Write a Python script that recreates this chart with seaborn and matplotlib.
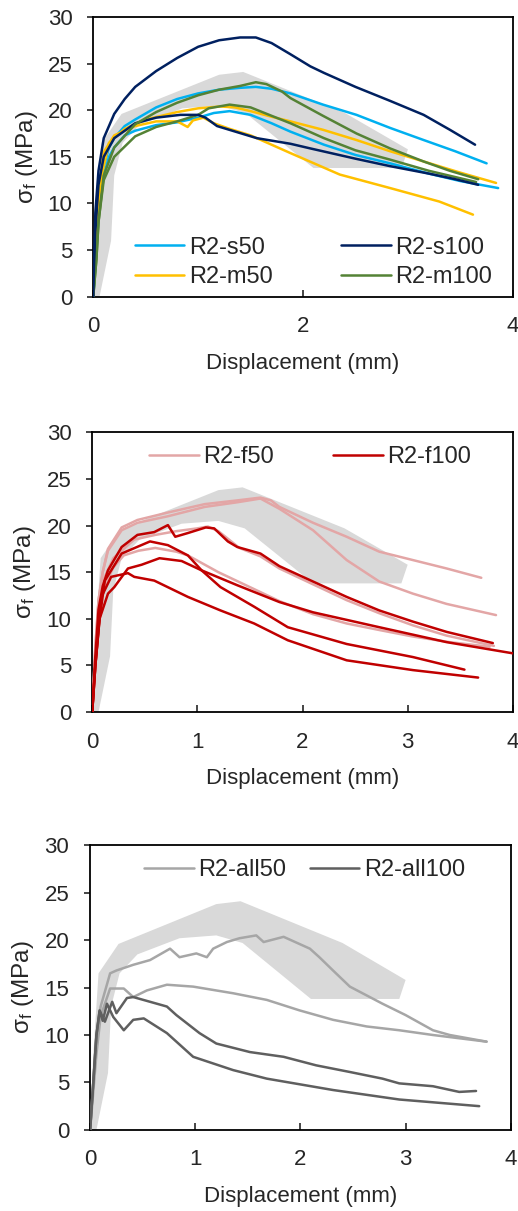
import numpy as np
import pandas as pd
import seaborn as sns
import matplotlib.pyplot as plt
from matplotlib.lines import Line2D

# grey scatter band (same in every panel)
band_x = [0.0, 0.03, 0.08, 0.27, 1.2, 1.43, 2.4, 3.0, 2.94, 2.1, 1.45, 1.2, 0.85, 0.45, 0.28, 0.2, 0.17, 0.06]
band_y = [0.0, 8.0, 16.5, 19.6, 23.8, 24.1, 19.7, 15.8, 13.8, 13.8, 19.7, 20.5, 20.2, 18.5, 16.5, 13.0, 6.0, 0.0]

# panel 1 : R2-s / R2-m
s50_a_x = [0, 0.03, 0.06, 0.1, 0.15, 0.2, 0.3, 0.4, 0.6, 0.8, 1.0, 1.2, 1.4, 1.55, 1.7, 1.88, 2.19, 2.51, 2.83, 3.15, 3.45, 3.75]
s50_a_y = [0, 6, 11, 14, 16, 17, 18.3, 19.0, 20.3, 21.2, 21.8, 22.2, 22.4, 22.5, 22.3, 21.8, 20.6, 19.5, 18.1, 16.8, 15.6, 14.3]
s50_b_x = [0, 0.03, 0.06, 0.1, 0.15, 0.2, 0.3, 0.4, 0.6, 0.8, 1.0, 1.15, 1.3, 1.5, 1.7, 1.88, 2.2, 2.5, 2.83, 3.2, 3.5, 3.86]
s50_b_y = [0, 5, 10, 13, 15, 16, 17.3, 17.8, 18.4, 18.7, 19.2, 19.7, 19.9, 19.5, 18.6, 17.7, 16.3, 15.2, 14.3, 13.2, 12.4, 11.65]
s100_a_x = [0, 0.02, 0.05, 0.1, 0.2, 0.3, 0.4, 0.6, 0.8, 1.0, 1.2, 1.4, 1.55, 1.7, 1.88, 2.07, 2.2, 2.5, 2.83, 3.15, 3.4, 3.64]
s100_a_y = [0, 9, 13.5, 17, 19.6, 21.2, 22.5, 24.2, 25.6, 26.8, 27.5, 27.8, 27.8, 27.2, 26.0, 24.7, 24.0, 22.5, 21.0, 19.5, 17.9, 16.3]
s100_b_x = [0, 0.02, 0.05, 0.1, 0.2, 0.4, 0.6, 0.83, 1.0, 1.07, 1.18, 1.56, 1.88, 2.07, 2.5, 2.83, 3.2, 3.45, 3.67]
s100_b_y = [0, 7, 12, 15, 17.0, 18.6, 19.2, 19.5, 19.5, 19.2, 18.3, 17.0, 16.4, 15.9, 14.8, 14.0, 13.2, 12.6, 12.0]
m50_a_x = [0, 0.02, 0.05, 0.08, 0.15, 0.3, 0.5, 0.8, 1.0, 1.21, 1.35, 1.5, 1.7, 1.88, 2.19, 2.51, 2.83, 3.15, 3.5, 3.84]
m50_a_y = [0, 5, 10, 13, 16.5, 18, 19, 19.8, 20.2, 20.4, 20.3, 19.9, 19.3, 18.8, 17.9, 16.8, 15.6, 14.5, 13.3, 12.2]
m50_b_x = [0, 0.02, 0.05, 0.1, 0.2, 0.4, 0.6, 0.8, 0.9, 0.95, 1.05, 1.15, 1.3, 1.5, 1.88, 2.35, 2.83, 3.3, 3.62]
m50_b_y = [0, 5, 11, 15.5, 17.3, 18.3, 18.8, 18.8, 18.2, 18.9, 19.2, 18.6, 18.0, 17.3, 15.4, 13.1, 11.65, 10.2, 8.8]
m100_a_x = [0, 0.03, 0.05, 0.1, 0.2, 0.4, 0.6, 0.8, 1.0, 1.2, 1.4, 1.55, 1.65, 1.8, 1.88, 2.19, 2.51, 2.83, 3.15, 3.4, 3.67]
m100_a_y = [0, 4, 8, 13, 16, 18.5, 19.8, 20.8, 21.6, 22.2, 22.6, 23.0, 22.8, 22.0, 21.3, 19.4, 17.5, 15.9, 14.5, 13.5, 12.6]
m100_b_x = [0, 0.03, 0.05, 0.1, 0.2, 0.4, 0.6, 0.8, 1.0, 1.1, 1.3, 1.5, 1.7, 1.88, 2.2, 2.5, 2.83, 3.2, 3.65]
m100_b_y = [0, 4, 8, 12.5, 15, 17.2, 18.2, 18.8, 19.5, 20.2, 20.6, 20.3, 19.4, 18.6, 17.0, 15.7, 14.7, 13.5, 12.3]

# panel 2 : R2-f
f50_a_x = [0, 0.03, 0.06, 0.1, 0.15, 0.28, 0.43, 0.72, 1.07, 1.38, 1.6, 1.7, 1.78, 2.1, 2.42, 2.73, 3.05, 3.37, 3.7]
f50_a_y = [0, 7, 12, 15, 17.5, 19.8, 20.6, 21.4, 22.3, 22.7, 23.0, 22.7, 22.0, 20.3, 18.8, 17.2, 16.3, 15.4, 14.4]
f50_b_x = [0, 0.03, 0.06, 0.1, 0.15, 0.28, 0.43, 0.72, 1.07, 1.38, 1.6, 1.78, 2.1, 2.42, 2.73, 3.05, 3.37, 3.84]
f50_b_y = [0, 7, 12, 15, 17.3, 19.5, 20.3, 21.0, 22.0, 22.5, 22.9, 21.8, 19.5, 16.3, 14.0, 12.7, 11.6, 10.4]
f50_c_x = [0, 0.03, 0.06, 0.1, 0.2, 0.4, 0.6, 0.8, 1.0, 1.1, 1.2, 1.4, 1.6, 1.78, 2.1, 2.42, 2.73, 3.05, 3.37, 3.82]
f50_c_y = [0, 6, 11, 14, 16.5, 18.5, 19.0, 19.4, 19.7, 19.9, 19.4, 17.6, 16.7, 15.4, 13.7, 12.0, 10.6, 9.3, 8.2, 7.1]
f50_d_x = [0, 0.03, 0.06, 0.1, 0.2, 0.3, 0.44, 0.6, 0.8, 0.91, 1.2, 1.5, 1.78, 2.1, 2.42, 2.73, 3.05, 3.4, 3.78]
f50_d_y = [0, 6, 10, 13, 15.5, 16.8, 17.3, 17.6, 17.2, 16.8, 15.0, 13.4, 11.9, 10.5, 9.5, 8.8, 8.1, 7.5, 7.0]
f100_a_x = [0, 0.03, 0.06, 0.1, 0.15, 0.28, 0.43, 0.59, 0.72, 0.79, 0.91, 1.08, 1.16, 1.29, 1.38, 1.6, 1.78, 2.1, 2.42, 2.73, 3.05, 3.37, 3.81]
f100_a_y = [0, 6, 11, 13.5, 15.2, 17.7, 19.0, 19.3, 20.05, 18.8, 19.2, 19.8, 19.7, 18.3, 17.7, 17.0, 15.65, 14.0, 12.35, 10.9, 9.7, 8.6, 7.4]
f100_b_x = [0, 0.03, 0.07, 0.12, 0.28, 0.55, 0.72, 0.91, 1.04, 1.22, 1.54, 1.86, 2.42, 3.05, 3.54]
f100_b_y = [0, 5, 10, 14.1, 17.0, 18.3, 17.9, 16.8, 15.2, 13.4, 11.3, 9.1, 7.3, 5.9, 4.55]
f100_c_x = [0, 0.03, 0.07, 0.15, 0.21, 0.34, 0.47, 0.64, 0.85, 1.04, 1.38, 1.78, 2.1, 2.73, 3.37, 4.0]
f100_c_y = [0, 5, 10, 12.7, 13.4, 15.4, 15.8, 16.5, 16.2, 15.2, 13.6, 11.8, 10.7, 9.1, 7.5, 6.3]
f100_d_x = [0, 0.03, 0.06, 0.09, 0.18, 0.34, 0.40, 0.59, 0.91, 1.22, 1.54, 1.86, 2.42, 3.05, 3.67]
f100_d_y = [0, 5, 9, 12.4, 14.5, 14.9, 14.5, 14.1, 12.35, 10.9, 9.5, 7.7, 5.55, 4.5, 3.7]

# panel 3 : R2-all
all50_a_x = [0, 0.03, 0.06, 0.1, 0.19, 0.25, 0.41, 0.57, 0.76, 0.85, 1.01, 1.11, 1.17, 1.3, 1.42, 1.58, 1.65, 1.84, 2.09, 2.18, 2.31, 2.47, 2.78, 3.0, 3.26, 3.42, 3.77]
all50_a_y = [0, 5, 10, 13, 16.5, 16.8, 17.4, 17.9, 19.1, 18.2, 18.6, 18.2, 19.1, 19.8, 20.2, 20.5, 19.8, 20.35, 19.1, 18.2, 16.8, 15.1, 13.3, 12.1, 10.5, 10.0, 9.3]
all50_b_x = [0, 0.03, 0.06, 0.1, 0.19, 0.32, 0.41, 0.54, 0.73, 0.98, 1.36, 1.68, 1.99, 2.31, 2.63, 2.94, 3.26, 3.77]
all50_b_y = [0, 4, 8, 12, 14.9, 14.9, 14.0, 14.7, 15.3, 15.1, 14.4, 13.7, 12.6, 11.6, 10.9, 10.5, 10.0, 9.3]
all100_a_x = [0, 0.03, 0.06, 0.09, 0.14, 0.21, 0.25, 0.35, 0.41, 0.57, 0.73, 0.82, 1.04, 1.2, 1.52, 1.84, 2.15, 2.47, 2.78, 2.94, 3.26, 3.51, 3.67]
all100_a_y = [0, 5, 10, 12.6, 11.4, 13.5, 12.3, 13.9, 14.0, 13.5, 13.0, 12.1, 10.2, 9.1, 8.2, 7.7, 6.8, 6.1, 5.4, 4.9, 4.6, 4.0, 4.1]
all100_b_x = [0, 0.03, 0.06, 0.09, 0.12, 0.16, 0.22, 0.32, 0.41, 0.51, 0.73, 0.98, 1.36, 1.68, 2.31, 2.94, 3.7]
all100_b_y = [0, 5, 10, 12.5, 11.5, 13.3, 11.9, 10.5, 11.6, 11.75, 10.2, 7.7, 6.3, 5.4, 4.2, 3.2, 2.5]

sns.set_style("white")
plt.rcParams["font.family"] = ["Liberation Sans", "DejaVu Sans"]
plt.rcParams["mathtext.fontset"] = "custom"
plt.rcParams["mathtext.rm"] = "Liberation Sans"
plt.rcParams["mathtext.it"] = "Liberation Sans"

c_s50 = "#00b0f0"
c_s100 = "#002060"
c_m50 = "#ffc000"
c_m100 = "#548235"
c_f50 = "#e3a6a6"
c_f100 = "#c00000"
c_all50 = "#a6a6a6"
c_all100 = "#5f5f5f"
lw = 1.8
tick_fs = 16
leg_fs = 17


def draw_curve(ax, x, y, color):
    sns.lineplot(x=x, y=y, ax=ax, color=color, lw=lw, sort=False,
                 estimator=None, legend=False, zorder=3)


def style_axes(ax, xticks, label_y):
    ax.fill(band_x, band_y, color="#d9d9d9", lw=0, zorder=1)
    ax.set_xlim(0, 4)
    ax.set_ylim(0, 30)
    ax.set_xticks(xticks)
    ax.set_yticks(range(0, 31, 5))
    for sp in ax.spines.values():
        sp.set_visible(True)
        sp.set_color("black")
        sp.set_linewidth(1.3)
    ax.tick_params(axis="x", direction="in", length=5, width=1.2, pad=14,
                   labelsize=tick_fs, bottom=True)
    ax.tick_params(axis="y", direction="out", length=4, width=1.2, pad=11,
                   labelsize=tick_fs, left=True)
    ax.set_xlabel("Displacement (mm)", fontsize=16)
    ax.set_ylabel("σ$_{\\mathregular{f}}$ (MPa)", fontsize=17.5)
    ax.xaxis.set_label_coords(0.5, label_y)
    ax.yaxis.set_label_coords(-0.128, 0.5)


fig = plt.figure(figsize=(5.18, 12.11), dpi=100)

# ---- panel 1
ax1 = fig.add_axes([0.180, 0.755, 0.810, 0.231])
style_axes(ax1, [0, 2, 4], -0.2)
draw_curve(ax1, s50_a_x, s50_a_y, c_s50)
draw_curve(ax1, s50_b_x, s50_b_y, c_s50)
draw_curve(ax1, m50_a_x, m50_a_y, c_m50)
draw_curve(ax1, m50_b_x, m50_b_y, c_m50)
draw_curve(ax1, m100_b_x, m100_b_y, c_m100)
draw_curve(ax1, s100_b_x, s100_b_y, c_s100)
draw_curve(ax1, m100_a_x, m100_a_y, c_m100)
draw_curve(ax1, s100_a_x, s100_a_y, c_s100)
h1 = [Line2D([], [], color=c_s50, lw=lw), Line2D([], [], color=c_m50, lw=lw),
      Line2D([], [], color=c_s100, lw=lw), Line2D([], [], color=c_m100, lw=lw)]
ax1.legend(h1, ["R2-s50", "R2-m50", "R2-s100", "R2-m100"], ncol=2,
           loc="center", bbox_to_anchor=(0.525, 0.123), frameon=False,
           fontsize=leg_fs, handlelength=2.1, handletextpad=0.2,
           columnspacing=2.9, labelspacing=0.3, borderpad=0)

# ---- panel 2
ax2 = fig.add_axes([0.178, 0.412, 0.812, 0.231])
style_axes(ax2, [0, 1, 2, 3, 4], -0.2)
for xs, ys in [(f50_a_x, f50_a_y), (f50_b_x, f50_b_y), (f50_c_x, f50_c_y), (f50_d_x, f50_d_y)]:
    draw_curve(ax2, xs, ys, c_f50)
for xs, ys in [(f100_a_x, f100_a_y), (f100_b_x, f100_b_y), (f100_c_x, f100_c_y), (f100_d_x, f100_d_y)]:
    draw_curve(ax2, xs, ys, c_f100)
h2 = [Line2D([], [], color=c_f50, lw=lw), Line2D([], [], color=c_f100, lw=lw)]
ax2.legend(h2, ["R2-f50", "R2-f100"], ncol=2, loc="center",
           bbox_to_anchor=(0.518, 0.912), frameon=False, fontsize=leg_fs,
           handlelength=2.1, handletextpad=0.2, columnspacing=2.5, borderpad=0)

# ---- panel 3
ax3 = fig.add_axes([0.174, 0.067, 0.812, 0.235])
style_axes(ax3, [0, 1, 2, 3, 4], -0.197)
draw_curve(ax3, all50_a_x, all50_a_y, c_all50)
draw_curve(ax3, all50_b_x, all50_b_y, c_all50)
draw_curve(ax3, all100_a_x, all100_a_y, c_all100)
draw_curve(ax3, all100_b_x, all100_b_y, c_all100)
h3 = [Line2D([], [], color=c_all50, lw=lw), Line2D([], [], color=c_all100, lw=lw)]
ax3.legend(h3, ["R2-all50", "R2-all100"], ncol=2, loc="center",
           bbox_to_anchor=(0.51, 0.912), frameon=False, fontsize=leg_fs,
           handlelength=2.1, handletextpad=0.2, columnspacing=1.0, borderpad=0)

fig.savefig("out.png", dpi=100)
